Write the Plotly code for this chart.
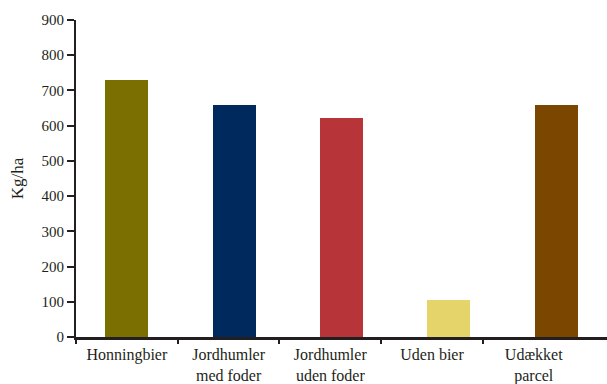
import plotly.graph_objects as go

# Yield per treatment (kg/ha)
categories = ["Honningbier", "Jordhumler<br>med foder", "Jordhumler<br>uden foder", "Uden bier", "Udækket<br>parcel"]
values = [730, 660, 623, 105, 660]
colors = ["#7a6f00", "#002a5e", "#b73538", "#e5d46a", "#7b4600"]
y_ticks = [0, 100, 200, 300, 400, 500, 600, 700, 800, 900]

ink = "#231f20"
font = "Liberation Serif"
idx = list(range(len(categories)))
separators = [i - 0.5 for i in idx]
label_range = [-0.5, 4.72]

fig = go.Figure()
# invisible traces that anchor the label axis and the separator-tick axis
for ax in ("x", "x3"):
    fig.add_trace(go.Scatter(
        x=idx, y=values, mode="none", xaxis=ax, yaxis="y",
        showlegend=False, hoverinfo="skip",
    ))
fig.add_trace(go.Bar(
    x=idx, y=values, marker=dict(color=colors, line=dict(width=0)),
    width=0.4, xaxis="x2", yaxis="y", showlegend=False, hoverinfo="y",
))

fig.update_layout(
    width=607, height=384,
    margin=dict(l=76, r=0, t=20, b=47),
    paper_bgcolor="white", plot_bgcolor="white",
    font=dict(family=font, color=ink),
    xaxis=dict(
        range=label_range, automargin=False,
        tickmode="array", tickvals=idx, ticktext=categories,
        ticks="", ticklabelstandoff=1,
        tickfont=dict(size=16, family=font, color=ink),
        showline=True, linecolor=ink, linewidth=2.5,
        showgrid=False, zeroline=False,
    ),
    xaxis2=dict(
        overlaying="x", range=[-0.47, 4.47], visible=False,
    ),
    xaxis3=dict(
        overlaying="x", range=label_range, automargin=False,
        tickmode="array", tickvals=separators, showticklabels=False,
        ticks="outside", ticklen=6, tickwidth=1.5, tickcolor=ink,
        showline=False, showgrid=False, zeroline=False,
    ),
    yaxis=dict(
        range=[0, 900], tickmode="array", tickvals=y_ticks, automargin=False,
        ticks="outside", ticklen=7, tickwidth=1.5, tickcolor=ink,
        tickfont=dict(size=15, family=font, color=ink),
        showline=True, linecolor=ink, linewidth=2,
        showgrid=False, zeroline=False,
        title=dict(text="Kg/ha", font=dict(size=17, family=font, color=ink), standoff=14),
    ),
    bargap=0,
)

fig.write_html("out.html")
